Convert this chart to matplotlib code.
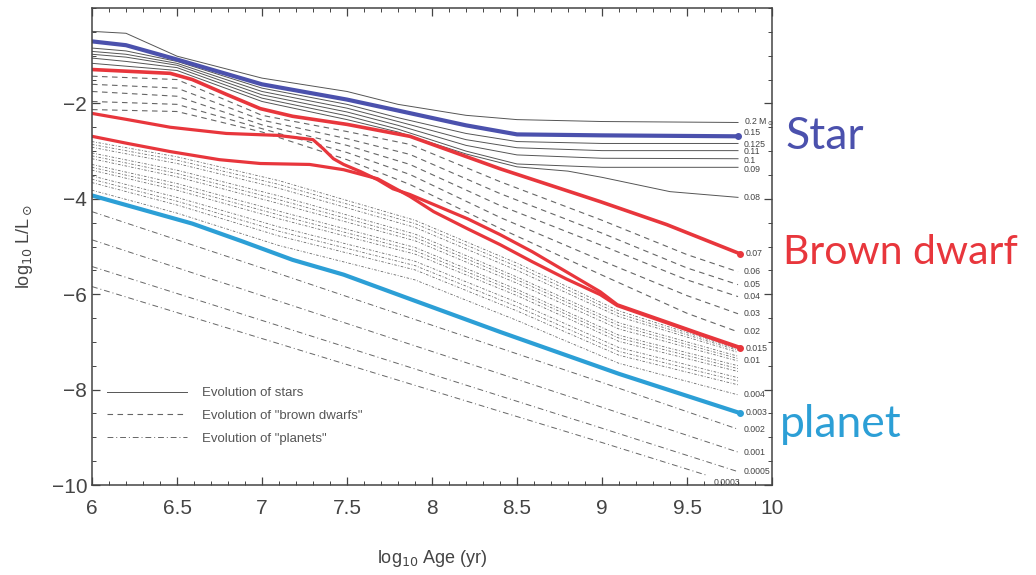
import matplotlib
matplotlib.use("Agg")
import matplotlib.pyplot as plt
from matplotlib.ticker import MultipleLocator
from matplotlib.lines import Line2D

plt.rcParams['font.family'] = ['Liberation Sans', 'DejaVu Sans']

# ---- stars (solid) : log10 L/Lsun vs log10 age ----
x_star = [6.0, 6.2, 6.5, 7.0, 7.5, 7.8, 8.2, 8.5, 9.0, 9.8]
star_02 = [-0.49, -0.53, -1.01, -1.47, -1.75, -2.02, -2.25, -2.34, -2.38, -2.40]
star_015 = [-0.70, -0.78, -1.08, -1.60, -1.92, -2.15, -2.46, -2.65, -2.67, -2.69]
star_0125 = [-0.84, -0.90, -1.12, -1.68, -2.02, -2.30, -2.63, -2.80, -2.84, -2.84]
star_011 = [-0.91, -0.97, -1.16, -1.75, -2.10, -2.38, -2.76, -2.93, -2.99, -2.99]
star_01 = [-0.97, -1.03, -1.20, -1.82, -2.18, -2.46, -2.88, -3.08, -3.15, -3.16]
star_009 = [-1.05, -1.12, -1.25, -1.89, -2.26, -2.54, -3.00, -3.27, -3.34, -3.34]
x_008 = [6.0, 6.2, 6.5, 7.0, 7.5, 7.8, 8.2, 8.5, 8.8, 9.0, 9.4, 9.8]
star_008 = [-1.16, -1.22, -1.31, -1.96, -2.34, -2.60, -3.06, -3.33, -3.42, -3.55, -3.85, -3.97]

# ---- brown dwarfs (dashed) ----
x_bd = [6.0, 6.5, 7.0, 7.5, 7.87, 8.4, 9.0, 9.5, 9.8]
bd_006 = [-1.43, -1.50, -2.25, -2.59, -2.86, -3.64, -4.45, -5.17, -5.53]
bd_005 = [-1.60, -1.68, -2.35, -2.74, -3.07, -3.89, -4.72, -5.45, -5.80]
bd_004 = [-1.75, -1.85, -2.45, -2.88, -3.28, -4.14, -4.98, -5.70, -6.05]
bd_003 = [-1.96, -2.02, -2.53, -3.03, -3.49, -4.39, -5.30, -6.03, -6.41]
bd_002 = [-2.13, -2.17, -2.60, -3.18, -3.70, -4.62, -5.60, -6.40, -6.79]

# highlighted (hand-traced) curves
x_red07 = [6.0, 6.46, 6.59, 6.79, 6.99, 7.18, 7.5, 7.87, 8.4, 8.99, 9.38, 9.81]
red07 = [-1.29, -1.37, -1.50, -1.81, -2.11, -2.27, -2.44, -2.69, -3.37, -4.06, -4.54, -5.15]
x_redA = [6.0, 6.21, 6.46, 6.79, 7.09, 7.30, 7.36, 7.42, 7.48, 7.58, 7.68, 7.77, 7.87,
          8.01, 8.21, 8.40, 8.59, 8.79, 8.99, 9.09, 9.38, 9.58, 9.81]
redA = [-2.21, -2.34, -2.50, -2.63, -2.67, -2.76, -2.95, -3.16, -3.28, -3.43, -3.60, -3.79, -3.91,
        -4.12, -4.42, -4.75, -5.11, -5.53, -5.95, -6.22, -6.58, -6.83, -7.11]
x_redB = [6.0, 6.21, 6.46, 6.75, 6.99, 7.28, 7.48, 7.68, 7.87, 8.01, 8.21, 8.40, 8.59,
          8.79, 8.99, 9.09, 9.38, 9.58, 9.81]
redB = [-2.69, -2.84, -3.01, -3.18, -3.26, -3.28, -3.39, -3.58, -3.95, -4.27, -4.63, -4.96, -5.32,
        -5.68, -6.01, -6.24, -6.60, -6.85, -7.13]

# ---- dense band of low-mass objects (dash-dot) ----
x_blk = [6.0, 6.5, 7.1, 7.9, 8.5, 9.1, 9.8]
band = [
    [-2.80, -3.12, -3.62, -4.45, -5.35, -6.35, -7.15],
    [-2.86, -3.19, -3.70, -4.52, -5.42, -6.41, -7.18],
    [-2.92, -3.26, -3.78, -4.60, -5.50, -6.47, -7.22],
    [-3.04, -3.40, -3.94, -4.74, -5.64, -6.60, -7.30],
    [-3.10, -3.47, -4.02, -4.81, -5.70, -6.66, -7.35],
    [-3.16, -3.54, -4.10, -4.88, -5.77, -6.73, -7.40],
    [-3.28, -3.68, -4.26, -5.02, -5.90, -6.86, -7.50],
    [-3.34, -3.75, -4.34, -5.09, -5.96, -6.92, -7.56],
    [-3.40, -3.82, -4.42, -5.16, -6.03, -6.99, -7.62],
    [-3.52, -3.97, -4.59, -5.31, -6.17, -7.12, -7.75],
    [-3.59, -4.05, -4.68, -5.40, -6.26, -7.20, -7.82],
    [-3.66, -4.13, -4.78, -5.49, -6.35, -7.28, -7.90],
    [-3.82, -4.30, -4.98, -5.70, -6.55, -7.45, -8.11],
]
band_labels = ['', '', '', '', '', '0.01', '', '', '', '', '', '', '0.004']

# ---- planets ----
x_cyan = [6.0, 6.30, 6.59, 6.89, 7.18, 7.48, 7.87, 8.40, 9.1, 9.81]
cyan = [-3.93, -4.23, -4.52, -4.90, -5.28, -5.59, -6.10, -6.79, -7.67, -8.49]
x_pl = [6.0, 7.0, 8.0, 9.0, 9.8]
pl_0002 = [-4.27, -5.45, -6.65, -7.85, -8.83]
pl_0001 = [-4.86, -6.03, -7.20, -8.37, -9.31]
pl_00005 = [-5.42, -6.55, -7.68, -8.81, -9.72]
x_pl3 = [6.0, 7.0, 8.0, 9.0, 9.62]
pl_00003 = [-5.84, -6.93, -8.02, -9.11, -9.80]

xtick_vals = [6, 6.5, 7, 7.5, 8, 8.5, 9, 9.5, 10]
xtick_labels = ['6', '6.5', '7', '7.5', '8', '8.5', '9', '9.5', '10']
ytick_vals = [-10, -8, -6, -4, -2]

fig = plt.figure(figsize=(10.36, 5.75), dpi=100)
ax = fig.add_axes([0.0888, 0.1565, 0.6564, 0.8296])

grey = '#555555'
solid = dict(color=grey, lw=0.7, ls='-')
dashed = dict(color='#666666', lw=0.8, ls=(0, (5, 4)))
dashdot = dict(color='#666666', lw=0.7, ls=(0, (6, 3, 1, 3)))
bandst = dict(color='#6a6a6a', lw=0.6, ls=(0, (3, 2, 1, 2)))

lab_kw = dict(fontsize=6.3, color='#444444', va='center', ha='left')

def label_end(x, y, txt, dy=0.0):
    ax.text(x[-1] + 0.035, y[-1] + dy, txt, **lab_kw)

# stars
ax.plot(x_star, star_02, **solid)
label_end(x_star, star_02, '0.2 M$_\\odot$')
ax.plot(x_star, star_0125, **solid)
label_end(x_star, star_0125, '0.125', dy=-0.02)
ax.plot(x_star, star_011, **solid)
label_end(x_star, star_011, '0.11', dy=-0.02)
ax.plot(x_star, star_01, **solid)
label_end(x_star, star_01, '0.1', dy=-0.04)
ax.plot(x_star, star_009, **solid)
label_end(x_star, star_009, '0.09', dy=-0.04)
ax.plot(x_008, star_008, **solid)
label_end(x_008, star_008, '0.08')

# brown dwarfs
for ys, txt in [(bd_006, '0.06'), (bd_005, '0.05'), (bd_004, '0.04'),
                (bd_003, '0.03'), (bd_002, '0.02')]:
    ax.plot(x_bd, ys, **dashed)
    label_end(x_bd, ys, txt)

# dense band
for ys, txt in zip(band, band_labels):
    ax.plot(x_blk, ys, **bandst)
    if txt:
        label_end(x_blk, ys, txt)

# planets
for xs, ys in [(x_pl, pl_0002), (x_pl, pl_0001), (x_pl, pl_00005), (x_pl3, pl_00003)]:
    ax.plot(xs, ys, **dashdot)
label_end(x_pl, pl_0002, '0.002')
label_end(x_pl, pl_0001, '0.001')
label_end(x_pl, pl_00005, '0.0005')
label_end(x_pl3, pl_00003, '0.0003', dy=-0.15)

# coloured highlights
blue = '#4b51ad'
red = '#e8363c'
cyan_c = '#2c9fd6'
ax.plot(x_star, star_015, color=blue, lw=3.0, solid_capstyle='round',
        marker='o', markevery=[-1], ms=4)
label_end(x_star, star_015, '0.15', dy=0.07)
ax.plot(x_red07, red07, color=red, lw=2.6, marker='o', markevery=[-1], ms=4)
label_end(x_red07, red07, '0.07')
ax.plot(x_redA, redA, color=red, lw=2.3)
ax.plot(x_redB, redB, color=red, lw=2.3, marker='o', markevery=[-1], ms=4)
label_end(x_redB, redB, '0.015')
ax.plot(x_cyan, cyan, color=cyan_c, lw=3.0, marker='o', markevery=[-1], ms=4)
label_end(x_cyan, cyan, '0.003')

ax.set_xlim(6, 10)
ax.set_ylim(-10, 0)
ax.set_xticks(xtick_vals)
ax.set_xticklabels(xtick_labels)
ax.set_yticks(ytick_vals)
ax.xaxis.set_minor_locator(MultipleLocator(0.1))
ax.yaxis.set_minor_locator(MultipleLocator(0.5))
ax.tick_params(which='both', direction='in', top=True, right=True, colors='#444444',
               labelsize=15, labelcolor='#444444')
ax.tick_params(which='major', length=6, width=0.9)
ax.tick_params(which='minor', length=3, width=0.7)
ax.tick_params(axis='x', pad=10)
for sp in ax.spines.values():
    sp.set_color('#444444')
    sp.set_linewidth(1.1)

ax.set_xlabel('log$_{10}$ Age (yr)', fontsize=13, color='#444444', labelpad=22)
ax.set_ylabel('log$_{10}$ L/L$_\\odot$', fontsize=13, color='#444444', labelpad=12)

handles = [Line2D([], [], **solid), Line2D([], [], **dashed), Line2D([], [], **dashdot)]
ax.legend(handles, ['Evolution of stars', 'Evolution of "brown dwarfs"', 'Evolution of "planets"'],
          loc='upper left', bbox_to_anchor=(0.022, 0.205), frameon=False, fontsize=9.5,
          handlelength=6.1, handletextpad=1.1, labelspacing=0.78, borderpad=0,
          borderaxespad=0, labelcolor='#555555')

fig.text(0.758, 0.762, 'Star', color=blue, fontsize=32, va='center', ha='left', family='Lato')
fig.text(0.756, 0.560, 'Brown dwarf', color=red, fontsize=29.5, va='center', ha='left', family='Lato')
fig.text(0.753, 0.261, 'planet', color=cyan_c, fontsize=32, va='center', ha='left', family='Lato')

fig.savefig('out.png', dpi=100)
